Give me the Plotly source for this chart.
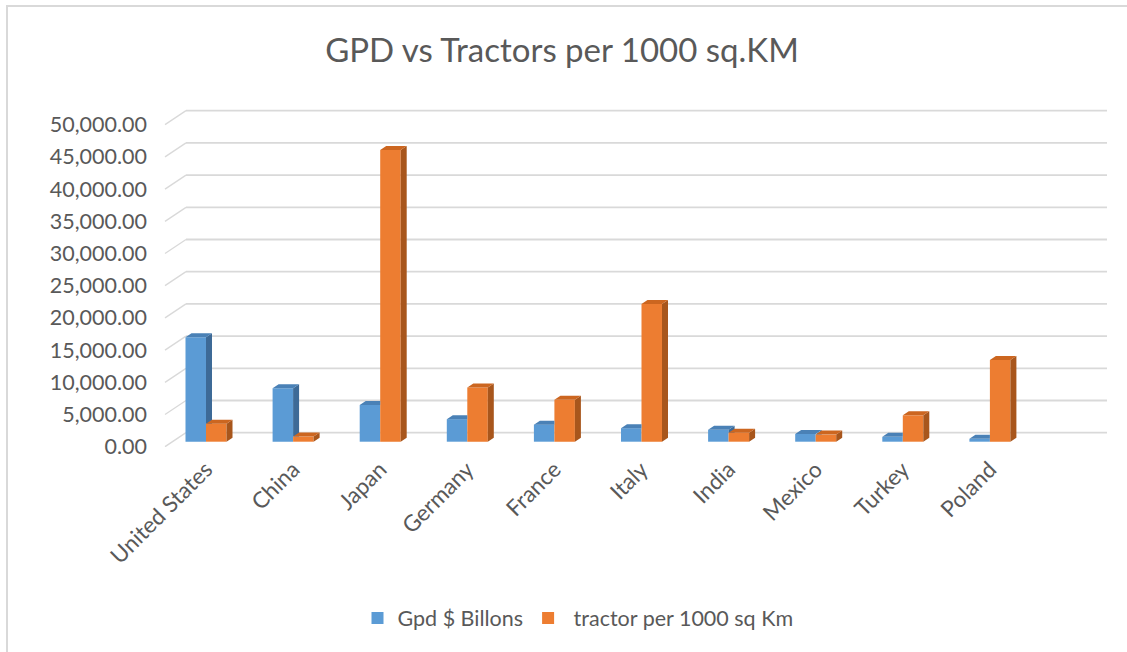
import plotly.graph_objects as go

# ---------------- data ----------------
countries = ["United States", "China", "Japan", "Germany", "France",
             "Italy", "India", "Mexico", "Turkey", "Poland"]
gdp_billions = [16200, 8300, 5700, 3500, 2650, 2100, 1850, 1200, 750, 450]
tractors_per_1000_sqkm = [2800, 800, 45300, 8400, 6500, 21400, 1400, 1100, 4100, 12700]
y_ticks = [0, 5000, 10000, 15000, 20000, 25000, 30000, 35000, 40000, 45000, 50000]
series_names = ["Gpd $ Billons", " tractor per 1000 sq Km"]

# ---------------- geometry (pixels) ----------------
W, H = 1127, 652
L, R = 163, 1108          # plot area left / right
T, B = 105, 447           # plot area top / bottom
X0_PX, STEP_PX = 206.0, 87.1
BASE_PX = 441.7
PX_PER_UNIT = 6.44 / 1000

x_range = [(L - X0_PX) / STEP_PX, (R - X0_PX) / STEP_PX]
y_range = [-(B - BASE_PX) / PX_PER_UNIT, (BASE_PX - T) / PX_PER_UNIT]

def px_to_x(px):
    return (px - X0_PX) / STEP_PX

def dpx_to_y(dpx):
    return dpx / PX_PER_UNIT

bw = 20.5 / STEP_PX     # bar width
dx = 6 / STEP_PX        # depth offset x
dy = dpx_to_y(4)        # depth offset y

BLUE, BLUE_TOP, BLUE_SIDE = "#5B9BD5", "#4A81B6", "#3D6A97"
ORANGE, ORANGE_TOP, ORANGE_SIDE = "#ED7D31", "#CC6620", "#A8561C"
GRID = "#D9D9D9"
TXT = "#595959"
FONT = "Lato"

idx = list(range(len(countries)))

fig = go.Figure()
fig.add_trace(go.Bar(x=idx, y=gdp_billions, width=bw, offset=-bw, name=series_names[0],
                     marker=dict(color=BLUE, line=dict(width=0)), hoverinfo="y"))
fig.add_trace(go.Bar(x=idx, y=tractors_per_1000_sqkm, width=bw, offset=0, name=series_names[1],
                     marker=dict(color=ORANGE, line=dict(width=0)), hoverinfo="y"))

# 3D faces
bs_x, bs_y, bt_x, bt_y = [], [], [], []
os_x, os_y, ot_x, ot_y = [], [], [], []
for i in idx:
    v, vo = gdp_billions[i], tractors_per_1000_sqkm[i]
    xl, xr = i - bw, i
    if v > vo:
        bs_x += [xr, xr + dx, xr + dx, xr, xr, None]
        bs_y += [vo, vo, v + dy, v, vo, None]
        bt_x += [xl, xr, xr + dx, xl + dx, xl, None]
        bt_y += [v, v, v + dy, v + dy, v, None]
    else:
        bt_x += [xl, xr, xr, xl + dx, xl, None]
        bt_y += [v, v, v + dy, v + dy, v, None]
    oxl, oxr = i, i + bw
    os_x += [oxr, oxr + dx, oxr + dx, oxr, oxr, None]
    os_y += [0, dy, vo + dy, vo, 0, None]
    ot_x += [oxl, oxr, oxr + dx, oxl + dx, oxl, None]
    ot_y += [vo, vo, vo + dy, vo + dy, vo, None]

for xs, ys, col in [(bs_x, bs_y, BLUE_SIDE), (bt_x, bt_y, BLUE_TOP),
                    (os_x, os_y, ORANGE_SIDE), (ot_x, ot_y, ORANGE_TOP)]:
    fig.add_trace(go.Scatter(x=xs, y=ys, mode="lines", fill="toself", fillcolor=col,
                             line=dict(width=0, color=col), showlegend=False,
                             hoverinfo="skip"))

# back-wall gridlines with slanted floor segments
shapes = []
back_off = dpx_to_y(9)
front_off = dpx_to_y(-5)
for v in y_ticks:
    shapes.append(dict(type="line", xref="x", yref="y", layer="below",
                       x0=px_to_x(186), x1=px_to_x(1107), y0=v + back_off, y1=v + back_off,
                       line=dict(color=GRID, width=1.8)))
    shapes.append(dict(type="line", xref="x", yref="y", layer="below",
                       x0=px_to_x(165), x1=px_to_x(186), y0=v + front_off, y1=v + back_off,
                       line=dict(color=GRID, width=1.4)))

# chart-area border (top & left visible)
pw, ph = R - L, B - T
shapes.append(dict(type="rect", xref="paper", yref="paper",
                   x0=(7 - L) / pw, x1=(1140 - L) / pw,
                   y0=(B - 670) / ph, y1=(B - 6) / ph,
                   line=dict(color="#D9D9D9", width=2), fillcolor="rgba(0,0,0,0)"))

fig.update_layout(
    width=W, height=H,
    margin=dict(l=L, r=W - R, t=T, b=H - B, pad=0),
    paper_bgcolor="white", plot_bgcolor="white",
    font=dict(family=FONT, color=TXT),
    title=dict(text="GPD vs Tractors per 1000 sq.KM", x=(562 / W), xanchor="center",
               xref="container", y=1 - 50 / H, yanchor="middle", yref="container",
               font=dict(family=FONT, size=33, color=TXT)),
    barmode="overlay",
    showlegend=True,
    legend=dict(orientation="h", x=(578 - L) / pw,
                xanchor="center", y=(B - 618) / ph, yanchor="middle",
                font=dict(family=FONT, size=21.5, color=TXT), bgcolor="rgba(0,0,0,0)",
                traceorder="normal"),
    shapes=shapes,
    xaxis=dict(range=x_range, tickmode="array", tickvals=idx, ticktext=countries,
               tickangle=-45, showgrid=False, zeroline=False, showline=False,
               ticks="", ticklabelstandoff=4,
               tickfont=dict(family=FONT, size=22.5, color=TXT), fixedrange=True),
    yaxis=dict(range=y_range, tickmode="array",
               tickvals=[v + front_off for v in y_ticks],
               ticktext=[f"{v:,.2f}" for v in y_ticks],
               showgrid=False, zeroline=False, showline=False, ticks="",
               ticklabelstandoff=15,
               tickfont=dict(family=FONT, size=21.5, color=TXT), fixedrange=True),
)

fig.write_html("out.html")
